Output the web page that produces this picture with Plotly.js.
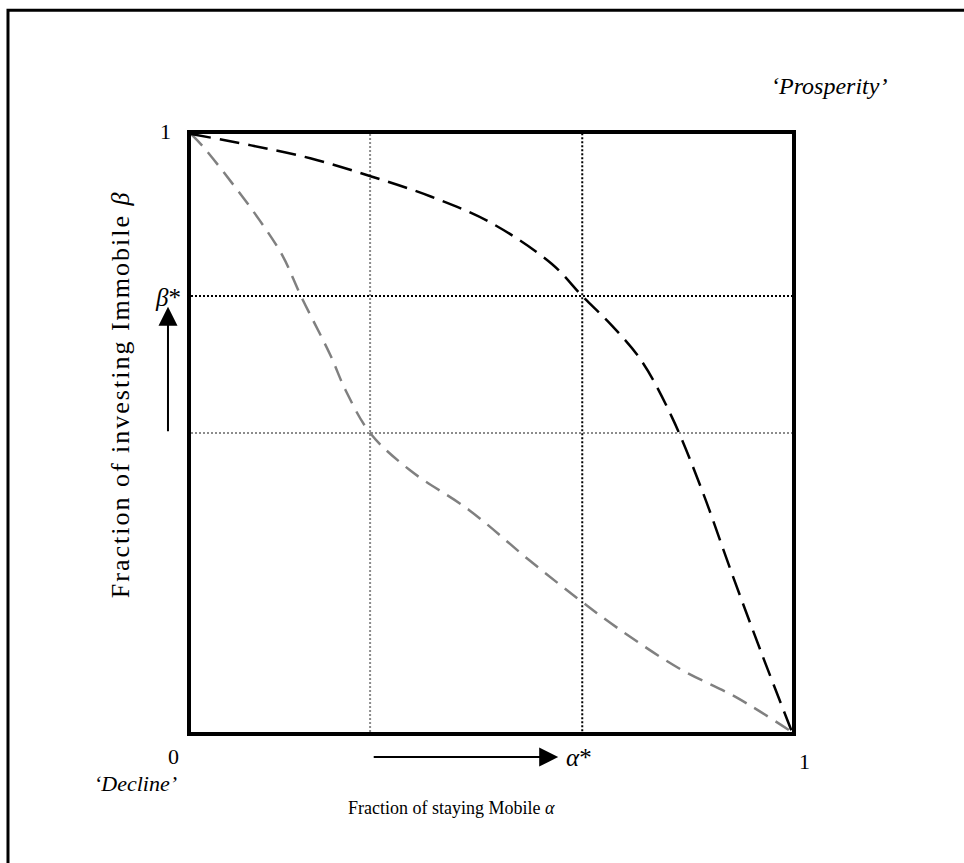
<!DOCTYPE html>
<html>
<head>
<meta charset="utf-8">
<script src="https://cdn.plot.ly/plotly-3.0.1.min.js"></script>
<style>
html,body{margin:0;padding:0;background:#fff;}
#chart{width:964px;height:863px;}
#chart .annotation[data-index="8"] text{letter-spacing:2px;}
</style>
</head>
<body>
<div id="chart"></div>
<script>
// Upper (black) dashed curve
const blackAlpha = [0, 0.1, 0.2, 0.3, 0.4, 0.5, 0.6, 0.651, 0.7, 0.75, 0.8, 0.85, 0.9, 0.95, 1];
const blackBeta  = [1, 0.981, 0.959, 0.929, 0.895, 0.851, 0.783, 0.729, 0.680, 0.620, 0.527, 0.405, 0.265, 0.130, 0];
// Lower (gray) dashed curve
const grayAlpha = [0, 0.020, 0.069, 0.114, 0.152, 0.183, 0.232, 0.257, 0.298, 0.364, 0.463, 0.562, 0.645, 0.711, 0.811, 0.909, 1];
const grayBeta  = [1, 0.979, 0.917, 0.856, 0.797, 0.729, 0.630, 0.572, 0.500, 0.438, 0.371, 0.288, 0.222, 0.173, 0.107, 0.057, 0];
// Reference levels
const alphaStar = 0.651;
const betaStar = 0.729;
const alphaGray = 0.298;
const betaGray = 0.50;
const tickLabels = {zero: "0", one: "1"};

const serif = "Liberation Serif, Times New Roman, serif";

const traces = [
  {x: [alphaGray, alphaGray], y: [0, 1], mode: "lines", line: {color: "#8c8c8c", width: 2, dash: "2px,2px"}, hoverinfo: "skip"},
  {x: [0, 1], y: [betaGray, betaGray], mode: "lines", line: {color: "#8c8c8c", width: 2, dash: "2px,2px"}, hoverinfo: "skip"},
  {x: [alphaStar, alphaStar], y: [-0.012, 1], mode: "lines", line: {color: "#000", width: 2, dash: "2px,2px"}, hoverinfo: "skip", cliponaxis: false},
  {x: [0, 1], y: [betaStar, betaStar], mode: "lines", line: {color: "#000", width: 2, dash: "2px,2px"}, hoverinfo: "skip"},
  {x: grayAlpha, y: grayBeta, mode: "lines", line: {color: "#808080", width: 2.5, dash: "16px,9px", shape: "spline", smoothing: 1}, cliponaxis: false},
  {x: blackAlpha, y: blackBeta, mode: "lines", line: {color: "#000", width: 2.5, dash: "20px,9px", shape: "spline", smoothing: 1}, cliponaxis: false}
];

const txt = (text, x, y, size, opts) => Object.assign({text: text, x: x, y: y, xref: "paper", yref: "paper",
  xanchor: "center", yanchor: "middle", showarrow: false, font: {family: serif, size: size, color: "#000"}}, opts || {});

const layout = {
  width: 964, height: 863,
  margin: {l: 191, r: 172, t: 134, b: 131},
  paper_bgcolor: "#fff", plot_bgcolor: "#fff",
  showlegend: false,
  xaxis: {range: [0, 1], showgrid: false, zeroline: false, showticklabels: false, ticks: "",
          showline: true, mirror: true, linecolor: "#000", linewidth: 4, fixedrange: true},
  yaxis: {range: [0, 1], showgrid: false, zeroline: false, showticklabels: false, ticks: "",
          showline: true, mirror: true, linecolor: "#000", linewidth: 4, fixedrange: true},
  shapes: [
    {type: "rect", xref: "paper", yref: "paper", x0: -0.3045, x1: 1.5, y0: -0.3, y1: 1.207,
     line: {color: "#000", width: 3}, fillcolor: "rgba(0,0,0,0)", layer: "below"}
  ],
  annotations: [
    txt(tickLabels.one, -0.0416, 1.005, 22),
    txt(tickLabels.zero, -0.0283, -0.0418, 22),
    txt(tickLabels.one, 1.020, -0.050, 22),
    txt("<i>β</i>*", -0.0383, 0.727, 25),
    txt("<i>α</i>*", 0.620, -0.042, 25, {xanchor: "left"}),
    txt("<i>‘Decline’</i>", -0.092, -0.0860, 22),
    txt("<i>‘Prosperity’</i>", 1.062, 1.080, 24),
    txt("Fraction of staying Mobile <i>α</i>", 0.433, -0.127, 18),
    txt("Fraction of investing Immobile <i>β</i>", -0.118, 0.565, 26, {textangle: -90}),
    {x: -0.0383, y: 0.711, xref: "paper", yref: "paper", ax: 0, ay: 126,
     showarrow: true, arrowhead: 2, arrowsize: 1.9, arrowwidth: 2, arrowcolor: "#000", text: ""},
    {x: 0.611, y: -0.042, xref: "paper", yref: "paper", ax: -186, ay: 0,
     showarrow: true, arrowhead: 2, arrowsize: 1.9, arrowwidth: 2, arrowcolor: "#000", text: ""}
  ]
};

Plotly.newPlot("chart", traces, layout, {displayModeBar: false, staticPlot: true});
</script>
</body>
</html>
